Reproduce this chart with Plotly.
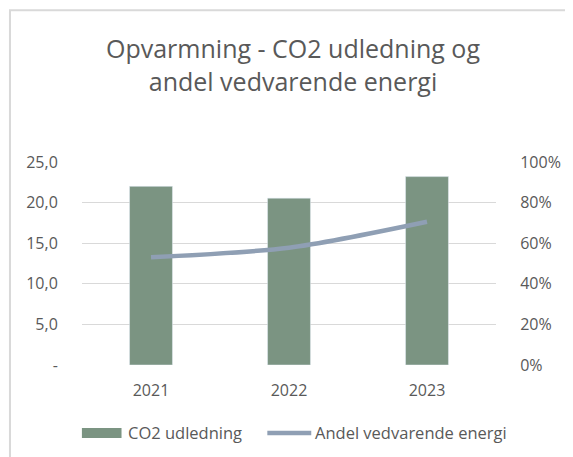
import plotly.graph_objects as go

years = ["2021", "2022", "2023"]
co2 = [22.0, 20.55, 23.2]
andel = [0.531, 0.578, 0.706]
left_ticks = [0, 5, 10, 15, 20, 25]
left_labels = ["-", "5,0", "10,0", "15,0", "20,0", "25,0"]
right_ticks = [0, 0.2, 0.4, 0.6, 0.8, 1.0]
right_labels = ["0%", "20%", "40%", "60%", "80%", "100%"]

# page is offset by the 8px body margin
OFF = 8
W, H = 573 - OFF, 457 - OFF
L, R, T, B = 73.8, 67, 154, 91.7
pw, ph = W - L - R, H - T - B

def px(x):
    return (x - L) / pw

def py(y):
    return (H - B - y) / ph

FONT = "'Open Sans', Lato, sans-serif"
GRAY = "#595959"
BAR_C = "#7b9482"
LINE_C = "#8f9fb4"

fig = go.Figure()
fig.add_trace(go.Bar(x=years, y=co2, name="CO2 udledning", marker_color=BAR_C,
                     width=0.311, yaxis="y", showlegend=False))
fig.add_trace(go.Scatter(x=years, y=andel, name="Andel vedvarende energi", mode="lines",
                         line=dict(color=LINE_C, width=4.5, shape="spline", smoothing=0.8),
                         yaxis="y2", showlegend=False))

annotations = [
    dict(text="CO2 udledning", xref="paper", yref="paper", x=px(118.7), y=py(425.3),
         xanchor="left", yanchor="middle", showarrow=False,
         font=dict(size=16.5, color=GRAY, family=FONT)),
    dict(text="Andel vedvarende energi", xref="paper", yref="paper", x=px(310), y=py(425.3),
         xanchor="left", yanchor="middle", showarrow=False,
         font=dict(size=16.5, color=GRAY, family=FONT)),
]

shapes = [
    dict(type="rect", xref="paper", yref="paper",
         x0=px(0), x1=px(W + 40), y0=py(2), y1=py(H + 40),
         line=dict(color="#d9d9d9", width=2), layer="below"),
    dict(type="rect", xref="paper", yref="paper",
         x0=px(73.7), x1=px(114.3), y0=py(420.3), y1=py(430.3),
         line=dict(width=0), fillcolor=BAR_C),
    dict(type="line", xref="paper", yref="paper",
         x0=px(263.7), x1=px(308.7), y0=py(425.3), y1=py(425.3),
         line=dict(color=LINE_C, width=4.5)),
]

fig.update_layout(
    width=W, height=H,
    margin=dict(l=L, r=R, t=T, b=B, pad=0),
    paper_bgcolor="white", plot_bgcolor="white",
    font=dict(family=FONT, color=GRAY, size=16),
    showlegend=False,
    title=dict(text="Opvarmning - CO2 udledning og<br>andel vedvarende energi",
               x=(293 - OFF) / W, xanchor="center", y=1 - 50 / H, yanchor="middle",
               font=dict(size=25, color=GRAY, family=FONT)),
    xaxis=dict(type="category", showgrid=False, showline=False, ticks="outside",
               ticklen=11, tickcolor="rgba(0,0,0,0)",
               tickfont=dict(size=16, color=GRAY), range=[-0.5, 2.5]),
    yaxis=dict(range=[0, 25], tickvals=left_ticks, ticktext=left_labels,
               showgrid=True, gridcolor="#d9d9d9", gridwidth=1, zeroline=False,
               showline=False, ticks="outside", ticklen=20, tickcolor="rgba(0,0,0,0)",
               tickfont=dict(size=16, color=GRAY)),
    yaxis2=dict(range=[0, 1], overlaying="y", side="right", tickvals=right_ticks,
                ticktext=right_labels, showgrid=False, zeroline=False, showline=False,
                ticks="outside", ticklen=20, tickcolor="rgba(0,0,0,0)",
                tickfont=dict(size=16, color=GRAY)),
    bargap=0.689,
    shapes=shapes,
    annotations=annotations,
)

fig.write_html("out.html")
